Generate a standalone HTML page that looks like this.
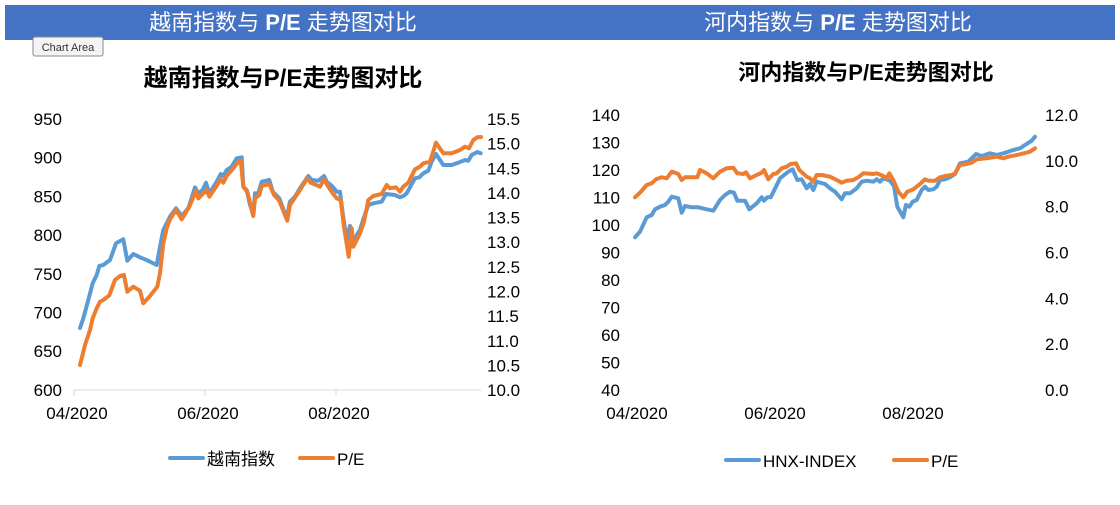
<!DOCTYPE html><html><head><meta charset="utf-8"><style>
body{margin:0;width:1120px;height:500px;background:#fff;overflow:hidden;font-family:"Liberation Sans","Noto Sans CJK SC",sans-serif}
</style></head><body>
<svg id="s" width="1120" height="500" xmlns="http://www.w3.org/2000/svg" font-family="Liberation Sans, Noto Sans CJK SC, sans-serif">
<rect x="5" y="5" width="1110" height="35" fill="#4472C4"/>
<text x="283" y="30" fill="#fff" font-size="22" text-anchor="middle">越南指数与 <tspan font-weight="bold">P/E</tspan> 走势图对比</text>
<text x="838" y="30" fill="#fff" font-size="22" text-anchor="middle">河内指数与 <tspan font-weight="bold">P/E</tspan> 走势图对比</text>
<rect x="33" y="37" width="70" height="19" fill="#f4f4f4" stroke="#888" rx="2"/>
<text x="68" y="51" font-size="11" text-anchor="middle" fill="#333">Chart Area</text>
<text x="283" y="86" font-size="24" font-weight="bold" text-anchor="middle">越南指数与P/E走势图对比</text>
<text x="866" y="80" font-size="22" font-weight="bold" text-anchor="middle">河内指数与P/E走势图对比</text>
<g id="g" font-size="17"></g>
</svg>
<script>
var g=document.getElementById('g'),NS='http://www.w3.org/2000/svg';
function el(t,a,txt){var e=document.createElementNS(NS,t);for(var k in a)e.setAttribute(k,a[k]);if(txt)e.textContent=txt;g.appendChild(e);return e;}
var L=['950','900','850','800','750','700','650','600'],R=['15.5','15.0','14.5','14.0','13.5','13.0','12.5','12.0','11.5','11.0','10.5','10.0'];
for(var i=0;i<8;i++)el('text',{x:62,y:119+i*38.7+6,'text-anchor':'end'},L[i]);
for(var i=0;i<12;i++)el('text',{x:487,y:119+i*24.64+6},R[i]);
el('line',{x1:74,y1:390,x2:481,y2:390,stroke:'#d9d9d9'});
[74,205,336].forEach(function(x,i){el('line',{x1:x,y1:390,x2:x,y2:396,stroke:'#d9d9d9'});el('text',{x:x+3,y:419,'text-anchor':'middle'},['04/2020','06/2020','08/2020'][i]);});
var L2=['140','130','120','110','100','90','80','70','60','50','40'],R2=['12.0','10.0','8.0','6.0','4.0','2.0','0.0'];
for(var i=0;i<11;i++)el('text',{x:620,y:115+i*27.5+6,'text-anchor':'end'},L2[i]);
for(var i=0;i<7;i++)el('text',{x:1045,y:115+i*45.83+6},R2[i]);
[637,775,913].forEach(function(x,i){el('text',{x:x,y:419,'text-anchor':'middle'},['04/2020','06/2020','08/2020'][i]);});
function pl(pts,ox,oy,pre,col){var s=pre||'';for(var i=0;i<pts.length;i+=2)s+=(ox+pts[i]/3).toFixed(1)+','+(oy+pts[i+1]/3).toFixed(1)+' ';el('polyline',{points:s,fill:'none',stroke:col,'stroke-width':4,'stroke-linejoin':'round','stroke-linecap':'round'});}
var B='#5B9BD5',O='#ED7D31';
pl([40,535,55,480,68,430,80,405,88,378,100,375,120,360,138,310,160,298,172,362,190,342,210,352,225,358,240,365,260,375,270,320,280,270,300,230,318,205,335,228,355,205,375,142,385,160,398,150,408,128,418,160,440,125,452,102,460,108,470,90,485,80,500,55,515,52,520,140,530,150,540,195,550,220,555,160,565,160,575,125,598,120,608,155,628,175,650,235,660,185,675,170,690,145,715,108,725,120,745,122,762,108,770,125,788,140,800,155,810,155,818,220,830,300,840,258,850,310,860,285,870,270,880,238,895,195,910,190,935,185,948,162,975,165,990,172,1000,168,1010,160,1035,115,1048,112,1060,100,1075,92,1085,65,1098,42,1120,75,1145,75,1165,68,1185,60,1195,62,1205,45,1222,36,1232,40],70,140,'80,328 ',B);
pl([68,535,80,505,90,485,100,480,118,466,135,420,150,408,162,405,172,455,190,440,210,452,220,490,240,468,262,440,270,400,280,310,290,265,300,238,318,210,335,238,358,200,378,152,385,175,400,160,410,150,418,170,438,140,452,118,460,128,470,108,490,85,505,65,512,62,520,140,532,155,550,228,555,175,568,165,575,138,598,132,612,165,628,182,652,242,660,195,690,150,712,115,722,128,750,140,762,118,775,140,788,160,800,175,812,180,822,260,836,350,845,265,850,320,870,280,882,245,895,180,910,168,935,162,950,135,960,145,978,142,990,155,1000,140,1015,128,1035,88,1050,80,1060,70,1080,65,1098,8,1120,40,1145,40,1170,30,1185,20,1197,25,1210,0,1222,-8,1233,-9],70,140,'80,365 85,345 90,330 ',O);
pl([45,352,60,335,80,292,95,285,105,268,120,260,135,255,145,245,155,230,175,235,185,278,195,258,215,262,235,262,260,268,280,272,300,240,315,225,330,215,342,218,352,242,375,242,388,268,410,250,425,232,432,242,442,232,452,232,468,200,480,175,505,155,518,148,532,180,545,178,560,205,570,192,580,210,590,185,615,192,630,205,645,215,665,238,675,220,690,220,710,205,725,185,740,182,760,185,770,178,780,185,790,175,810,182,822,198,832,260,850,292,858,255,868,260,878,245,890,240,905,210,915,200,925,210,940,208,950,200,960,180,975,178,990,172,1005,162,1020,130,1045,125,1055,115,1068,102,1085,108,1110,100,1130,105,1150,100,1165,95,1180,90,1200,85,1215,75,1235,62,1245,50],620,120,'',B);
pl([45,232,60,218,80,195,95,190,108,178,125,172,140,175,155,155,165,158,175,162,185,180,195,172,215,172,232,172,240,150,260,160,280,175,300,155,320,145,340,143,352,160,370,162,378,157,390,175,410,165,425,158,432,150,445,178,460,162,470,160,485,145,500,140,512,132,528,130,538,150,560,170,570,175,580,185,590,165,605,165,630,170,650,180,665,188,680,182,700,180,715,172,730,160,760,162,770,160,790,168,800,175,808,160,820,180,835,215,850,232,862,215,880,208,900,192,915,178,925,182,945,182,960,172,975,168,995,165,1005,160,1020,135,1040,132,1055,128,1070,118,1100,115,1130,110,1150,115,1165,110,1200,103,1230,95,1245,85],620,120,'',O);
el('line',{x1:170,y1:458,x2:203,y2:458,stroke:B,'stroke-width':4,'stroke-linecap':'round'});el('text',{x:207,y:465},'越南指数');
el('line',{x1:300,y1:458,x2:333,y2:458,stroke:O,'stroke-width':4,'stroke-linecap':'round'});el('text',{x:337,y:465},'P/E');
el('line',{x1:726,y1:460,x2:759,y2:460,stroke:B,'stroke-width':4,'stroke-linecap':'round'});el('text',{x:763,y:467},'HNX-INDEX');
el('line',{x1:894,y1:460,x2:927,y2:460,stroke:O,'stroke-width':4,'stroke-linecap':'round'});el('text',{x:931,y:467},'P/E');
</script>
</body></html>
